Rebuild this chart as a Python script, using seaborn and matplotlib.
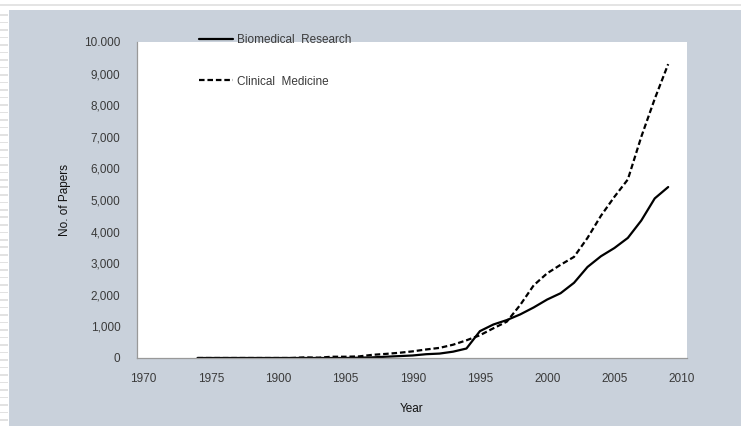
import numpy as np
import pandas as pd
import matplotlib
matplotlib.use("Agg")
import matplotlib.pyplot as plt
import seaborn as sns
from matplotlib.patches import Rectangle
from matplotlib.ticker import FixedLocator

# data
years = list(range(1974, 2010))
biomedical = [0, 0, 0, 0, 0, 0, 0, 0, 0, 0, 0, 0,
              10, 20, 40, 60, 80, 120, 140, 200, 300,
              850, 1060, 1200, 1380, 1600, 1850, 2050, 2380, 2880,
              3220, 3480, 3800, 4350, 5050, 5410]
clinical = [0, 0, 0, 0, 0, 0, 0, 0, 20, 10, 40, 40,
            50, 100, 130, 165, 210, 270, 320, 420, 560,
            720, 940, 1150, 1680, 2300, 2680, 2950, 3200, 3800,
            4500, 5100, 5650, 7000, 8200, 9300]

year_ticks = [1970, 1975, 1980, 1985, 1990, 1995, 2000, 2005, 2010]
year_labels = ["1970", "1975", "1900", "1905", "1990", "1995", "2000", "2005", "2010"]
y_ticks = [0, 1000, 2000, 3000, 4000, 5000, 6000, 7000, 8000, 9000, 10000]
y_labels = ["0", "1,000", "2,000", "3,000", "4,000", "5,000",
            "6,000", "7,000", "8,000", "9,000", "10.000"]

sns.set_style("white")
plt.rcParams["font.family"] = ["Liberation Sans", "DejaVu Sans"]

fig = plt.figure(figsize=(7.41, 4.26), dpi=100, facecolor="white")

# grey slide panel behind the chart
def panel(x, y, w, h, color):
    fig.add_artist(Rectangle((x / 741, 1 - (y + h) / 426), w / 741, h / 426,
                             transform=fig.transFigure, facecolor=color,
                             edgecolor="none", zorder=-10))

panel(9, 10, 732, 416, "#c9d1db")
panel(0, 4, 741, 1.5, "#e4e4e4")
for k in range(56):
    panel(0, 14 + k * 7.5, 8, 1.5, "#e2e2e2")

ax = fig.add_axes([137 / 741, 68 / 426, 550 / 741, 316 / 426])
ax.set_facecolor("white")

sns.lineplot(x=years, y=biomedical, ax=ax, color="black", linewidth=1.6,
             label="Biomedical  Research")
sns.lineplot(x=years, y=clinical, ax=ax, color="black", linewidth=1.6,
             linestyle=(0, (2.5, 1.3)), label="Clinical  Medicine")

ax.set_xlim(1969.5, 2010.4)
ax.set_ylim(0, 10000)

# tick marks sit half a year left of the labels (category axis look)
ax.xaxis.set_major_locator(FixedLocator(year_ticks))
ax.set_xticklabels(year_labels)
ax.xaxis.set_minor_locator(FixedLocator([t - 0.5 for t in year_ticks]))
ax.tick_params(axis="x", which="major", length=0, pad=11, labelsize=8.5, labelcolor="#3a3a3a")
ax.tick_params(axis="x", which="minor", direction="in", length=3, width=0.8, color="#aaaaaa")
ax.set_yticks(y_ticks)
ax.set_yticklabels(y_labels)
ax.tick_params(axis="y", direction="in", length=3, width=0.8, color="#aaaaaa",
               pad=12, labelsize=8.5, labelcolor="#3a3a3a")

for side in ["top", "right"]:
    ax.spines[side].set_visible(False)
for side in ["left", "bottom"]:
    ax.spines[side].set_color("#999999")
    ax.spines[side].set_linewidth(0.9)

ax.set_xlabel("Year", fontsize=8.5, color="#111111", labelpad=13)
ax.set_ylabel("No. of Papers", fontsize=8.5, color="#111111", labelpad=9)

ax.legend(loc="upper left", bbox_to_anchor=(199 / 741, 1 - 34 / 426),
          bbox_transform=fig.transFigure, frameon=False, fontsize=8.5,
          handlelength=2.9, handletextpad=0.3, labelspacing=2.5,
          borderpad=0, borderaxespad=0, labelcolor="#3a3a3a")

fig.savefig("out.png", dpi=100, facecolor=fig.get_facecolor())
